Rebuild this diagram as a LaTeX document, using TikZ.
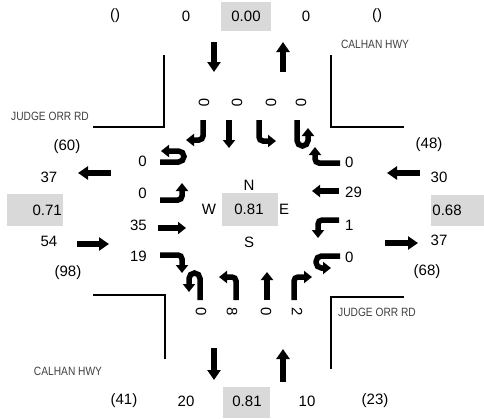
\documentclass[tikz,border=0pt]{standalone}
\usepackage{fontspec}
\setmainfont{Liberation Sans}
\newfontfamily\roadfont[FakeStretch=0.85]{Liberation Sans}
\usepackage{tikz}
\usetikzlibrary{arrows.meta}
\definecolor{boxgray}{HTML}{D9D9D9}
\definecolor{roadgray}{HTML}{404040}
\tikzstyle{approach} = [line width=6.5pt,-{Triangle[length=10pt,width=13pt]}]
\tikzstyle{turn} = [line width=5.5pt,rounded corners=4pt,-{Triangle[length=8pt,width=12pt]}]
\tikzstyle{uturn} = [turn,rounded corners=5.5pt]
\tikzstyle{curb} = [line width=1.8pt]
\tikzstyle{count} = [font=\fontsize{15}{17}\selectfont,inner sep=0pt]
\tikzstyle{lane} = [count,rotate=-90]
\tikzstyle{road} = [font=\roadfont\fontsize{12}{14}\selectfont,text=roadgray,inner sep=0pt]

\begin{document}
\begin{tikzpicture}[x=1pt,y=-1pt]
  \useasboundingbox (0,0) rectangle (484,418);

  % CURBS
  % top left
  \draw[curb] (93,127) -- (164,127) -- (164,55);
  % top right
  \draw[curb] (331,55) -- (331,127) -- (404,127);
  % bottom left
  \draw[curb] (93,295) -- (165,295) -- (165,359);
  % bottom right
  \draw[curb] (331,369) -- (331,297) -- (404,297);

  % ROAD NAMES
  \node[road] (calhanN) at (375,44) {CALHAN HWY};
  \node[road] (judgeW) at (50,116) {JUDGE ORR RD};
  \node[road] (judgeE) at (377,312) {JUDGE ORR RD};
  \node[road] (calhanS) at (68,371) {CALHAN HWY};

  % GREY BOXES
  \fill[boxgray] (221,2) rectangle (271,31);
  \fill[boxgray] (223,387) rectangle (270,418);
  \fill[boxgray] (7,194) rectangle (63,226);
  \fill[boxgray] (431,195) rectangle (484,226);
  \fill[boxgray] (222,193) rectangle (278,226);

  % NORTH LEG
  \node[count] (nin) at (115,16) {()};
  \node[count] (nout) at (186,16) {0};
  \node[count] (nratio) at (246,16) {0.00};
  \node[count] (narr) at (306,16) {0};
  \node[count] (nnext) at (377,16) {()};
  \draw[approach] (214,42) -- (214,72);
  \draw[approach] (283,72) -- (283,42);

  % SOUTH LEG
  \node[count] (sin) at (124,401) {(41)};
  \node[count] (sout) at (186,401) {20};
  \node[count] (sratio) at (247,401) {0.81};
  \node[count] (sarr) at (307,401) {10};
  \node[count] (snext) at (375,401) {(23)};
  \draw[approach] (214,348) -- (214,380);
  \draw[approach] (283,382) -- (283,349);

  % WEST LEG
  \node[count] (win) at (67,147) {(60)};
  \node[count] (wout) at (49,177) {37};
  \node[count,anchor=east] (wratio) at (62,210) {0.71};
  \node[count] (warr) at (49,241) {54};
  \node[count] (wnext) at (68,273) {(98)};
  \draw[approach] (111,173) -- (78,173);
  \draw[approach] (77,244) -- (109,244);

  % EAST LEG
  \node[count] (ein) at (429,145) {(48)};
  \node[count] (eout) at (439,177) {30};
  \node[count] (eratio) at (447,210) {0.68};
  \node[count] (earr) at (439,240) {37};
  \node[count] (enext) at (427,272) {(68)};
  \draw[approach] (420,173) -- (387,173);
  \draw[approach] (385,243) -- (418,243);

  % CENTRE
  \node[count] (north) at (249,185) {N};
  \node[count] (west) at (209,209) {W};
  \node[count] (icu) at (249,209) {0.81};
  \node[count] (east) at (284,209) {E};
  \node[count] (south) at (249,242) {S};

  % SOUTHBOUND LANES
  \node[lane] (sbr) at (204,103) {0};
  \node[lane] (sbt) at (237,103) {0};
  \node[lane] (sbl) at (271,103) {0};
  \node[lane] (sbu) at (301,103) {0};
  \draw[turn] (203,120) -- (203,140) -- (186,140);
  \draw[turn] (229,120) -- (229,148);
  \draw[turn] (259,120) -- (259,141) -- (276,141);
  \draw[uturn] (297,120) -- (297,146) -- (308,146) -- (308,128);

  % EASTBOUND LANES
  \node[count,anchor=east] (ebu) at (147,161) {0};
  \node[count,anchor=east] (ebl) at (147,193) {0};
  \node[count,anchor=east] (ebt) at (147,225) {35};
  \node[count,anchor=east] (ebr) at (147,256) {19};
  \draw[uturn] (160,162) -- (184,162) -- (184,151) -- (161,151);
  \draw[turn] (160,200) -- (182,200) -- (182,183);
  \draw[turn] (158,228) -- (186,228);
  \draw[turn] (160,255) -- (182,255) -- (182,273);

  % NORTHBOUND LANES
  \node[lane] (nbu) at (201,312) {0};
  \node[lane] (nbl) at (232,312) {8};
  \node[lane] (nbt) at (266,312) {0};
  \node[lane] (nbr) at (297,312) {2};
  \draw[uturn] (200,300) -- (200,273) -- (189,273) -- (189,292);
  \draw[turn] (236,300) -- (236,277) -- (219,277);
  \draw[turn] (267,300) -- (267,272);
  \draw[turn] (294,300) -- (294,277) -- (312,277);

  % WESTBOUND LANES
  \node[count,anchor=west] (wbr) at (345,162) {0};
  \node[count,anchor=west] (wbt) at (345,192) {29};
  \node[count,anchor=west] (wbl) at (345,225) {1};
  \node[count,anchor=west] (wbu) at (345,257) {0};
  \draw[turn] (340,163) -- (315,163) -- (315,147);
  \draw[turn] (339,191) -- (312,191);
  \draw[turn] (339,220) -- (318,220) -- (318,238);
  \draw[uturn] (340,256) -- (316,256) -- (316,268) -- (331,268);
\end{tikzpicture}
\end{document}
